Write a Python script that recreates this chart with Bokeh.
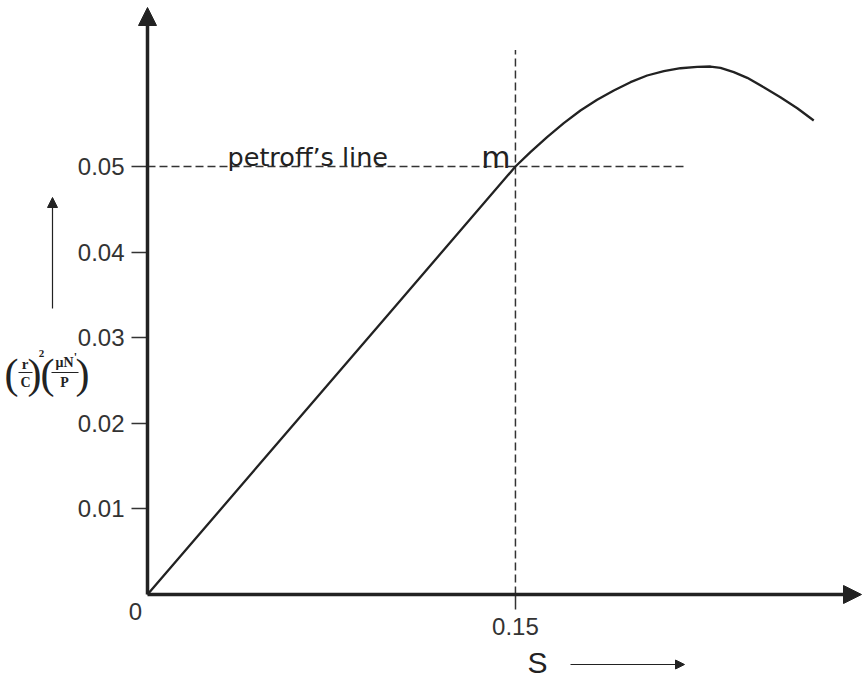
from bokeh.plotting import figure
from bokeh.models import (Arrow, NormalHead, Label, FixedTicker, PrintfTickFormatter,
                          Range1d, LinearAxis)
from bokeh.embed import file_html
from bokeh.resources import INLINE

# ---- data ----
s_values = [0.0, 0.05, 0.10, 0.15, 0.1561, 0.1629, 0.1697, 0.1765, 0.1833, 0.1901,
            0.1969, 0.2037, 0.2105, 0.2173, 0.2241, 0.2295, 0.2336, 0.2390, 0.2445,
            0.2512, 0.2580, 0.2649, 0.2716]
f_values = [0.0, 0.01667, 0.03333, 0.05, 0.05167, 0.05342, 0.05506, 0.05654, 0.05779,
            0.05888, 0.05985, 0.06063, 0.06113, 0.06148, 0.06165, 0.06168, 0.06153,
            0.06102, 0.06036, 0.05926, 0.05810, 0.05681, 0.05537]
petroff_level = 0.05
petroff_end = 0.2193
m_s = 0.15
m_top = 0.0636
y_ticks = [0.01, 0.02, 0.03, 0.04, 0.05]
x_ticks = [0.15]

W, H = 863, 682

# pixel helpers for annotation placement (canvas pixels -> data space)
def X(px):
    return (px - 147) / 2453.0

def Y(py):
    return (594 - py) / 8560.0

x_axis_end = X(861)
y_axis_end = Y(7)

INK = "#222222"
TXT = "#333333"

p = figure(width=W, height=H, output_backend="svg", toolbar_location=None,
           x_range=Range1d(X(0), X(W)), y_range=Range1d(Y(H), Y(0)),
           x_axis_type=None, y_axis_type=None,
           min_border_left=0, min_border_right=0, min_border_top=0,
           min_border_bottom=0)
p.xgrid.visible = False
p.ygrid.visible = False
p.outline_line_color = None
p.background_fill_color = "white"
p.border_fill_color = "white"

yax = LinearAxis(fixed_location=0)
xax = LinearAxis(fixed_location=0)
for ax, ticks, tout, stand in ((yax, y_ticks, 16, 7), (xax, x_ticks, 15, 8)):
    ax.ticker = FixedTicker(ticks=ticks)
    ax.formatter = PrintfTickFormatter(format="%.2f")
    ax.axis_line_color = None
    ax.major_tick_in = 0
    ax.major_tick_out = tout
    ax.major_tick_line_color = TXT
    ax.major_tick_line_width = 1.5
    ax.minor_tick_line_color = None
    ax.major_label_text_font = "Liberation Sans"
    ax.major_label_text_font_size = "24px"
    ax.major_label_text_color = TXT
    ax.major_label_standoff = stand
p.add_layout(yax, "left")
p.add_layout(xax, "below")

# dashed guide lines
p.line([0, petroff_end], [petroff_level, petroff_level], line_dash="8 4",
       line_width=1.5, line_color=TXT)
p.line([m_s, m_s], [0, m_top], line_dash="8 4", line_width=1.5, line_color=TXT)

# curve
p.line(s_values, f_values, line_width=2.3, line_color=INK, line_join="round")

# axes with arrow heads
p.add_layout(Arrow(x_start=0, y_start=0, x_end=0, y_end=y_axis_end, line_width=3.5,
                   line_color=INK,
                   end=NormalHead(size=18, fill_color=INK, line_color=INK, line_width=1)))
p.add_layout(Arrow(x_start=0, y_start=0, x_end=x_axis_end, y_end=0, line_width=3.5,
                   line_color=INK,
                   end=NormalHead(size=18, fill_color=INK, line_color=INK, line_width=1)))

# origin label
p.add_layout(Label(x=0, y=0, x_offset=-12, y_offset=-17, text="0",
                   text_align="center", text_baseline="middle",
                   text_font="Liberation Sans", text_font_size="24px", text_color=TXT))

# petroff's line and m
p.add_layout(Label(x=X(227), y=Y(156), text="petroff\u2019s line",
                   text_align="left", text_baseline="alphabetic",
                   text_font="DejaVu Sans", text_font_size="25.5px", text_color=INK))
p.add_layout(Label(x=X(510), y=Y(157), text="m",
                   text_align="right", text_baseline="alphabetic",
                   text_font="DejaVu Sans", text_font_size="30px", text_color=INK))

# S label and arrow
p.add_layout(Label(x=X(537), y=Y(662), text="S",
                   text_align="center", text_baseline="middle",
                   text_font="Liberation Sans", text_font_size="30px", text_color=INK))
p.add_layout(Arrow(x_start=X(570), y_start=Y(664), x_end=X(684), y_end=Y(664),
                   line_width=1.2, line_color=INK,
                   end=NormalHead(size=9, fill_color=INK, line_color=INK, line_width=1)))

# y label arrow
p.add_layout(Arrow(x_start=X(52), y_start=Y(308), x_end=X(52), y_end=Y(197),
                   line_width=1.2, line_color=INK,
                   end=NormalHead(size=10, fill_color=INK, line_color=INK, line_width=1)))

# y label: (r/C)^2 (muN'/P)
def lab(px, py, text, size, bold=False, font="Liberation Serif"):
    p.add_layout(Label(x=X(px), y=Y(py), text=text, text_align="center",
                       text_baseline="middle", text_font=font,
                       text_font_size=size, text_color=INK,
                       text_font_style="bold" if bold else "normal"))

lab(11, 373, "(", "42px")
lab(34, 373, ")", "42px")
lab(47, 373, "(", "42px")
lab(82, 373, ")", "42px")
lab(24.5, 363, "r", "15px", True)
lab(25, 382, "C", "14px", True)
lab(41, 353, "2", "11px", True)
lab(64, 362, "\u03bcN", "14px", True)
lab(75, 356, "'", "12px", True)
lab(64, 382, "P", "14px", True)
p.add_layout(Arrow(x_start=X(18), y_start=Y(372), x_end=X(32), y_end=Y(372),
                   end=None, line_width=1.2, line_color=INK))
p.add_layout(Arrow(x_start=X(51), y_start=Y(372), x_end=X(78), y_end=Y(372),
                   end=None, line_width=1.2, line_color=INK))

open("out.html", "w").write(file_html(p, INLINE))
